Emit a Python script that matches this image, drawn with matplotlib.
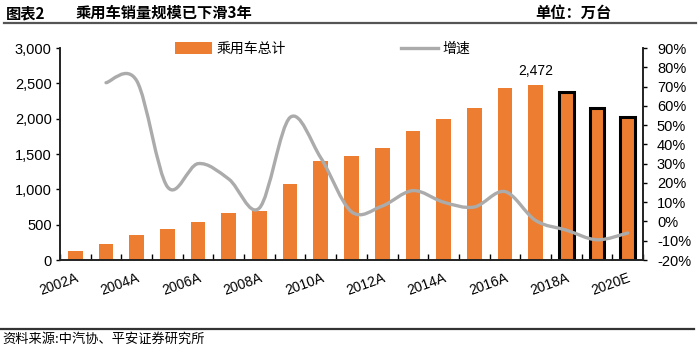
#!/usr/bin/env python3
# -*- coding: utf-8 -*-
"""Passenger-car sales (bars) with YoY growth (smoothed line), 2002A-2020E."""

import matplotlib
matplotlib.use("Agg")
import matplotlib.pyplot as plt
from matplotlib.lines import Line2D
from matplotlib.patches import Patch, PathPatch
from matplotlib.path import Path
from matplotlib.ticker import FuncFormatter, FixedLocator
import numpy as np

plt.rcParams["font.family"] = ["Liberation Sans", "Noto Sans CJK SC", "DejaVu Sans"]

years = ["2002A", "2003A", "2004A", "2005A", "2006A", "2007A", "2008A", "2009A",
         "2010A", "2011A", "2012A", "2013A", "2014A", "2015A", "2016A", "2017A",
         "2018A", "2019E", "2020E"]
sales = [125, 225, 355, 435, 535, 665, 700, 1070, 1400, 1470, 1580, 1825, 2000,
         2145, 2440, 2472, 2371, 2144, 2020]
# growth starts in 2003
growth = [72, 73, 18, 30, 22, 7, 54, 33, 5, 8, 16, 10, 7.5, 15.5, 0.5, -4.5, -9.5, -6]
outlined = ["2018A", "2019E", "2020E"]
peak_label = "2,472"

BAR_COLOR = "#ED7D31"
LINE_COLOR = "#ABABAB"

W, H = 700, 346
fig = plt.figure(figsize=(W / 100, H / 100), dpi=100)
ax = fig.add_axes([60 / W, 1 - 260 / H, (643 - 60) / W, (260 - 48) / H])
ax2 = ax.twinx()

x = np.arange(len(years))
for xi, yr, v in zip(x, years, sales):
    if yr in outlined:
        ax.bar(xi, v, width=0.48, color=BAR_COLOR, edgecolor="black", linewidth=2.2, zorder=2)
    else:
        ax.bar(xi, v, width=0.48, color=BAR_COLOR, zorder=2)

peak_i = int(np.argmax(sales))
ax.text(x[peak_i], sales[peak_i] + 110, peak_label, ha="center", va="bottom", fontsize=10)

# smoothed growth line (Catmull-Rom style Bezier, like Excel's smooth lines)
gx = x[1:].astype(float)
gy = np.array(growth, dtype=float)
pts = np.column_stack([gx, gy])
verts = [pts[0]]
codes = [Path.MOVETO]
n = len(pts)
for i in range(n - 1):
    p0 = pts[i - 1] if i > 0 else pts[i]
    p1 = pts[i]
    p2 = pts[i + 1]
    p3 = pts[i + 2] if i + 2 < n else pts[i + 1]
    c1 = p1 + (p2 - p0) / 6.0
    c2 = p2 - (p3 - p1) / 6.0
    verts += [c1, c2, p2]
    codes += [Path.CURVE4] * 3
ax2.add_patch(PathPatch(Path(verts, codes), fill=False, edgecolor=LINE_COLOR,
                        linewidth=2.4, capstyle="round", zorder=3))

ax.set_xlim(-0.5, len(years) - 0.5)
ax.set_ylim(0, 3000)
ax.set_yticks(np.arange(0, 3001, 500))
ax.yaxis.set_major_formatter(FuncFormatter(lambda v, p: f"{int(v):,}"))
ax2.set_ylim(-20, 90)
ax2.set_yticks(np.arange(-20, 91, 10))
ax2.yaxis.set_major_formatter(FuncFormatter(lambda v, p: f"{int(v)}%"))

ax.set_xticks(x[::2])
ax.set_xticklabels(years[::2], rotation=20, ha="right", rotation_mode="anchor")
ax.xaxis.set_minor_locator(FixedLocator(np.arange(-0.5, len(years), 1.0)))
ax.tick_params(axis="x", which="major", length=0, pad=8, labelsize=10)
ax.tick_params(axis="x", which="minor", direction="in", length=4, width=1)
ax.tick_params(axis="y", length=3, width=1, labelsize=10.5, pad=3)
ax2.tick_params(axis="y", length=3, width=1, labelsize=10.5, pad=7)

for a in (ax, ax2):
    a.spines["top"].set_visible(False)
    for s in ("left", "right", "bottom"):
        a.spines[s].set_color("#222222")
        a.spines[s].set_linewidth(1.2)

handles = [Patch(facecolor=BAR_COLOR, edgecolor="none"),
           Line2D([], [], color=LINE_COLOR, linewidth=2.4)]
fig.legend(handles, ["乘用车总计", "增速"], ncol=2, frameon=False,
           loc="center left", bbox_to_anchor=(162 / W, 1 - 49 / H),
           handlelength=2.7, handleheight=0.9, handletextpad=0.3,
           columnspacing=8.3, prop={"family": ["Noto Sans CJK SC"], "size": 10})

# header and footer
fig.text(6 / W, 1 - 13 / H, "图表2", fontsize=11, fontweight="bold", va="center",
         family=["Noto Sans CJK SC"])
fig.text(76 / W, 1 - 13 / H, "乘用车销量规模已下滑3年", fontsize=11, fontweight="bold",
         va="center", family=["Noto Sans CJK SC"])
fig.text(535 / W, 1 - 13 / H, "单位：万台", fontsize=11, fontweight="bold",
         va="center", family=["Noto Sans CJK SC"])
fig.add_artist(Line2D([4 / W, 696 / W], [1 - 22.5 / H, 1 - 22.5 / H], color="#555555", linewidth=1.6))
fig.add_artist(Line2D([0, 694 / W], [1 - 329 / H, 1 - 329 / H], color="#333333", linewidth=1.6))
fig.text(2 / W, 1 - 339 / H, "资料来源:中汽协、平安证券研究所", fontsize=9.5, style="italic",
         va="center", family=["Noto Sans CJK SC"])

fig.savefig("out.png", dpi=100)
